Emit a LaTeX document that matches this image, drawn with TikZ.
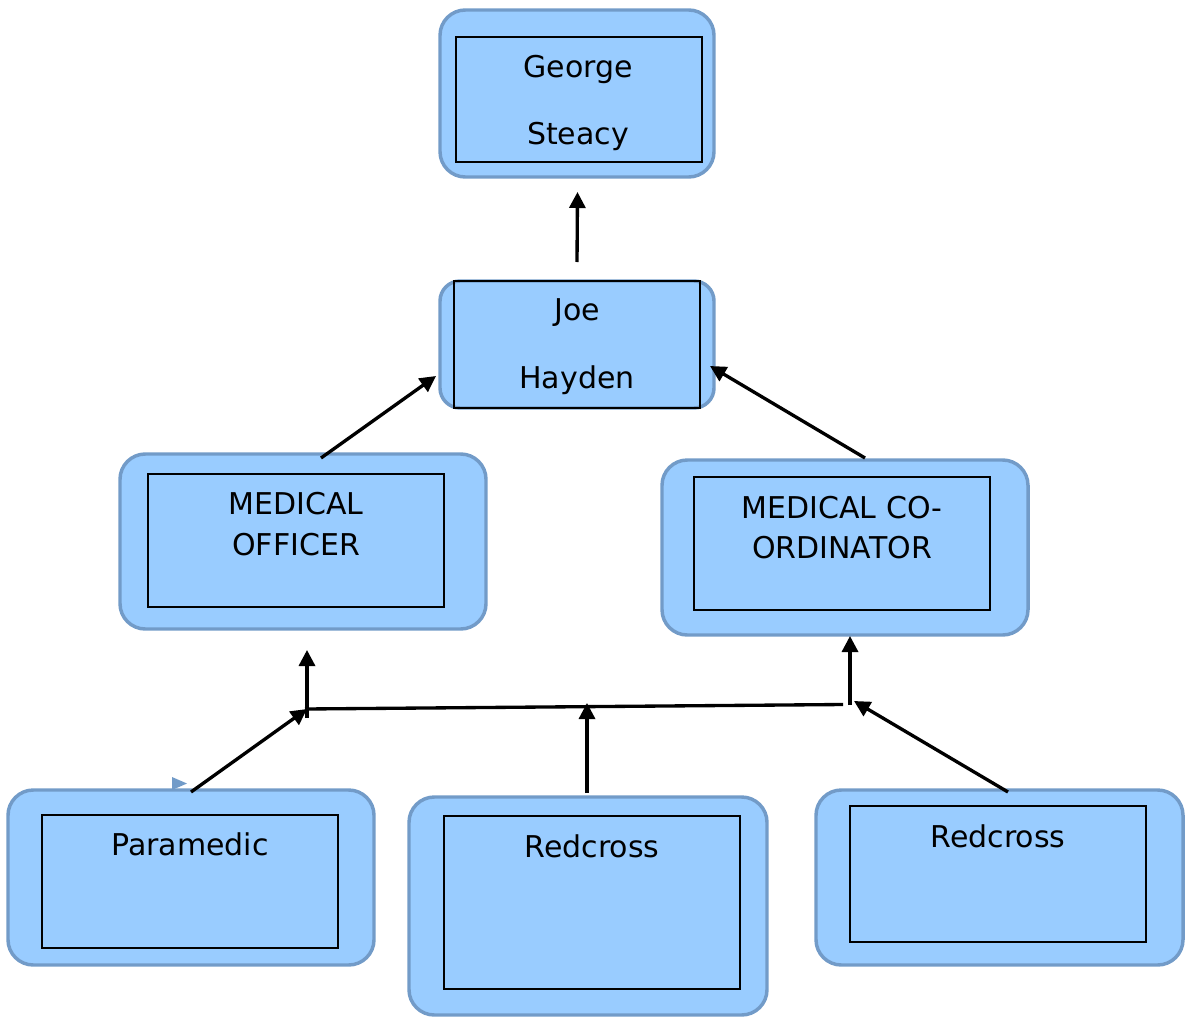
\documentclass[tikz,border=0pt]{standalone}
\usepackage{fontspec}
\setmainfont{DejaVu Sans}
\usetikzlibrary{arrows.meta}
\definecolor{boxfill}{RGB}{153,204,255}
\definecolor{boxedge}{RGB}{114,155,200}
\begin{document}
\begin{tikzpicture}[x=0.75pt,y=-0.75pt,
  outerbox/.style={draw=boxedge, fill=boxfill, line width=2.6pt, rounded corners=19pt, inner sep=0pt, outer sep=0pt},
  innerbox/.style={draw=black, line width=1.5pt, inner sep=0pt, outer sep=0pt},
  lbl/.style={anchor=base, font=\fontsize{22.5}{27}\selectfont, inner sep=0pt},
  conn/.style={draw=black, line width=2.5pt},
  arr/.style={conn, -{Triangle[length=12pt,width=12pt]}}]
\useasboundingbox (0,0) rectangle (1187,1024);
% George Steacy
\node[outerbox, minimum width=205.5pt, minimum height=125.25pt] (georgeO) at (577,93.5) {};
\node[innerbox, minimum width=184.5pt, minimum height=93.75pt] (georgeI) at (579,99.5) {};
\node[lbl] (georgeT1) at (578,77) {George};
\node[lbl] (georgeT2) at (578,144) {Steacy};
% Joe Hayden
\node[outerbox, minimum width=205.5pt, minimum height=95.25pt, rounded corners=15pt] (joeO) at (577,344.5) {};
\node[innerbox, minimum width=184.5pt, minimum height=95.25pt] (joeI) at (577,344.5) {};
\node[lbl] (joeT1) at (577,320) {Joe};
\node[lbl] (joeT2) at (577,388) {Hayden};
% Medical officer
\node[outerbox, minimum width=274.5pt, minimum height=131.25pt] (moO) at (303,541.5) {};
\node[innerbox, minimum width=222pt, minimum height=99.75pt] (moI) at (296,540.5) {};
\node[lbl] (moT1) at (296,514) {MEDICAL};
\node[lbl] (moT2) at (296,555) {OFFICER};
% Medical co-ordinator
\node[outerbox, minimum width=274.5pt, minimum height=131.25pt] (mcO) at (845,547.5) {};
\node[innerbox, minimum width=222pt, minimum height=99.75pt] (mcI) at (842,543.5) {};
\node[lbl] (mcT1) at (842,518) {MEDICAL CO-};
\node[lbl] (mcT2) at (842,558) {ORDINATOR};
% Paramedic
\node[outerbox, minimum width=274.5pt, minimum height=131.25pt] (paO) at (191,877.5) {};
\node[innerbox, minimum width=222pt, minimum height=99.75pt] (paI) at (190,881.5) {};
\node[lbl] (paT) at (190,855) {Paramedic};
% Redcross middle
\node[outerbox, minimum width=268.5pt, minimum height=163.5pt] (rmO) at (588,906) {};
\node[innerbox, minimum width=222pt, minimum height=129.75pt] (rmI) at (592,902.5) {};
\node[lbl] (rmT) at (592,857) {Redcross};
% Redcross right
\node[outerbox, minimum width=275.25pt, minimum height=131.25pt] (rrO) at (999.5,877.5) {};
\node[innerbox, minimum width=222pt, minimum height=102pt] (rrI) at (998,874) {};
\node[lbl] (rrT) at (998,847) {Redcross};
% connector end points
\coordinate (c1s) at (577,262);
\coordinate (c1e) at (577.5,192);
\coordinate (c2s) at (321,458);
\coordinate (c2e) at (436,376);
\coordinate (c3s) at (865,458);
\coordinate (c3e) at (710,366);
\coordinate (c4s) at (307,718);
\coordinate (c4e) at (307,650);
\coordinate (hL) at (305,709);
\coordinate (hR) at (843,704.5);
\coordinate (c5s) at (191,792);
\coordinate (c5e) at (307,709);
\coordinate (c6s) at (587,793);
\coordinate (c6e) at (587,703);
\coordinate (c7s) at (850,705);
\coordinate (c7e) at (850,636);
\coordinate (c8s) at (1008,792);
\coordinate (c8e) at (854,701);
\coordinate (tipA) at (172,777);
\coordinate (tipB) at (187,783.5);
\coordinate (tipC) at (172,790);
% connectors
\draw[arr] (c1s) -- (c1e);
\draw[arr] (c2s) -- (c2e);
\draw[arr] (c3s) -- (c3e);
\draw[arr] (c4s) -- (c4e);
\draw[conn] (hL) -- (hR);
\draw[arr] (c5s) -- (c5e);
\draw[arr] (c6s) -- (c6e);
\draw[arr] (c7s) -- (c7e);
\draw[arr] (c8s) -- (c8e);
\fill[boxedge] (tipA) -- (tipB) -- (tipC) -- cycle;
\end{tikzpicture}
\end{document}
